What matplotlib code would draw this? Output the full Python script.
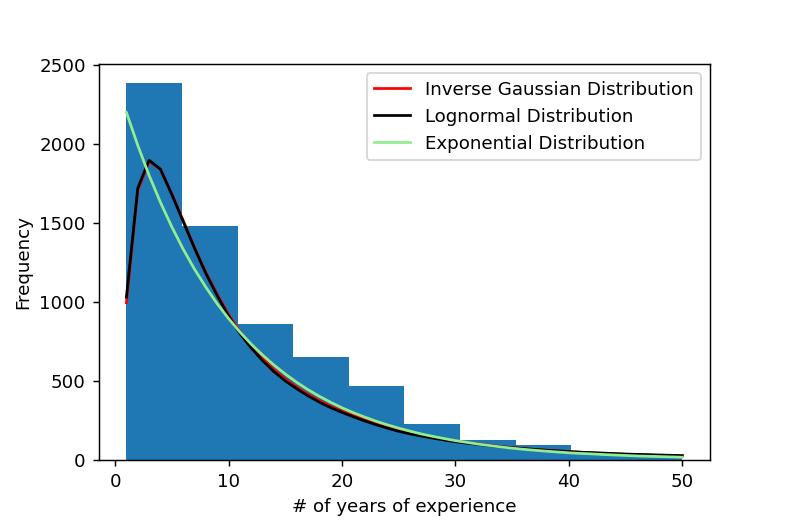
import numpy as np
import matplotlib
matplotlib.use('Agg')
import matplotlib.pyplot as plt

#histogram bins (years of experience) and counts
bin_edges = [1.0, 5.9, 10.8, 15.7, 20.6, 25.5, 30.4, 35.3, 40.2, 45.1, 50.0]
counts = [2386, 1482, 861, 652, 466, 229, 128, 96, 45, 28]

#fitted curves, evaluated at whole years 1..50
years = list(range(1, 51))
inv_gauss = [995, 1705, 1890, 1840, 1685, 1515, 1345, 1188, 1048, 920,
             812, 722, 642, 572, 512, 461, 415, 375, 339, 308,
             280, 254, 230, 208, 188, 171, 156, 142, 130, 119,
             109, 100, 92, 84, 77, 71, 65, 60, 55, 51,
             47, 43, 40, 37, 34, 32, 29, 27, 25, 24]
lognorm = [1030, 1720, 1897, 1840, 1680, 1510, 1340, 1180, 1040, 910,
           800, 708, 628, 558, 500, 450, 405, 365, 330, 300,
           272, 246, 222, 200, 180, 164, 150, 137, 125, 114,
           105, 97, 89, 82, 76, 70, 65, 60, 56, 52,
           48, 45, 42, 39, 36, 34, 32, 30, 28, 26]
expon = [2200, 1991, 1801, 1630, 1475, 1334, 1207, 1093, 988, 895,
         809, 732, 663, 600, 543, 491, 444, 402, 364, 329,
         298, 270, 244, 221, 200, 181, 163, 148, 134, 121,
         110, 99, 90, 81, 73, 66, 60, 54, 49, 44,
         40, 37, 33, 30, 27, 24, 22, 20, 18, 16]

#6x4 inch figure drawn at 131.5 dpi -> 789x526 px
fig, ax = plt.subplots(figsize=(6, 4), dpi=131.5)
fig.subplots_adjust(left=0.125, right=0.9, top=0.878, bottom=0.126)

#one sample per bin weighted by its count gives the same bars
centers = [(bin_edges[i] + bin_edges[i+1]) / 2 for i in range(len(counts))]
ax.hist(centers, bins=bin_edges, weights=counts, color='C0')

ax.plot(years, inv_gauss, color='red', label='Inverse Gaussian Distribution')
ax.plot(years, lognorm, color='black', label='Lognormal Distribution')
ax.plot(years, expon, color='lightgreen', label='Exponential Distribution')

ax.set_xlabel('# of years of experience')
ax.set_ylabel('Frequency')
ax.legend(loc='upper right')

fig.savefig('out.png', dpi=131.5)
